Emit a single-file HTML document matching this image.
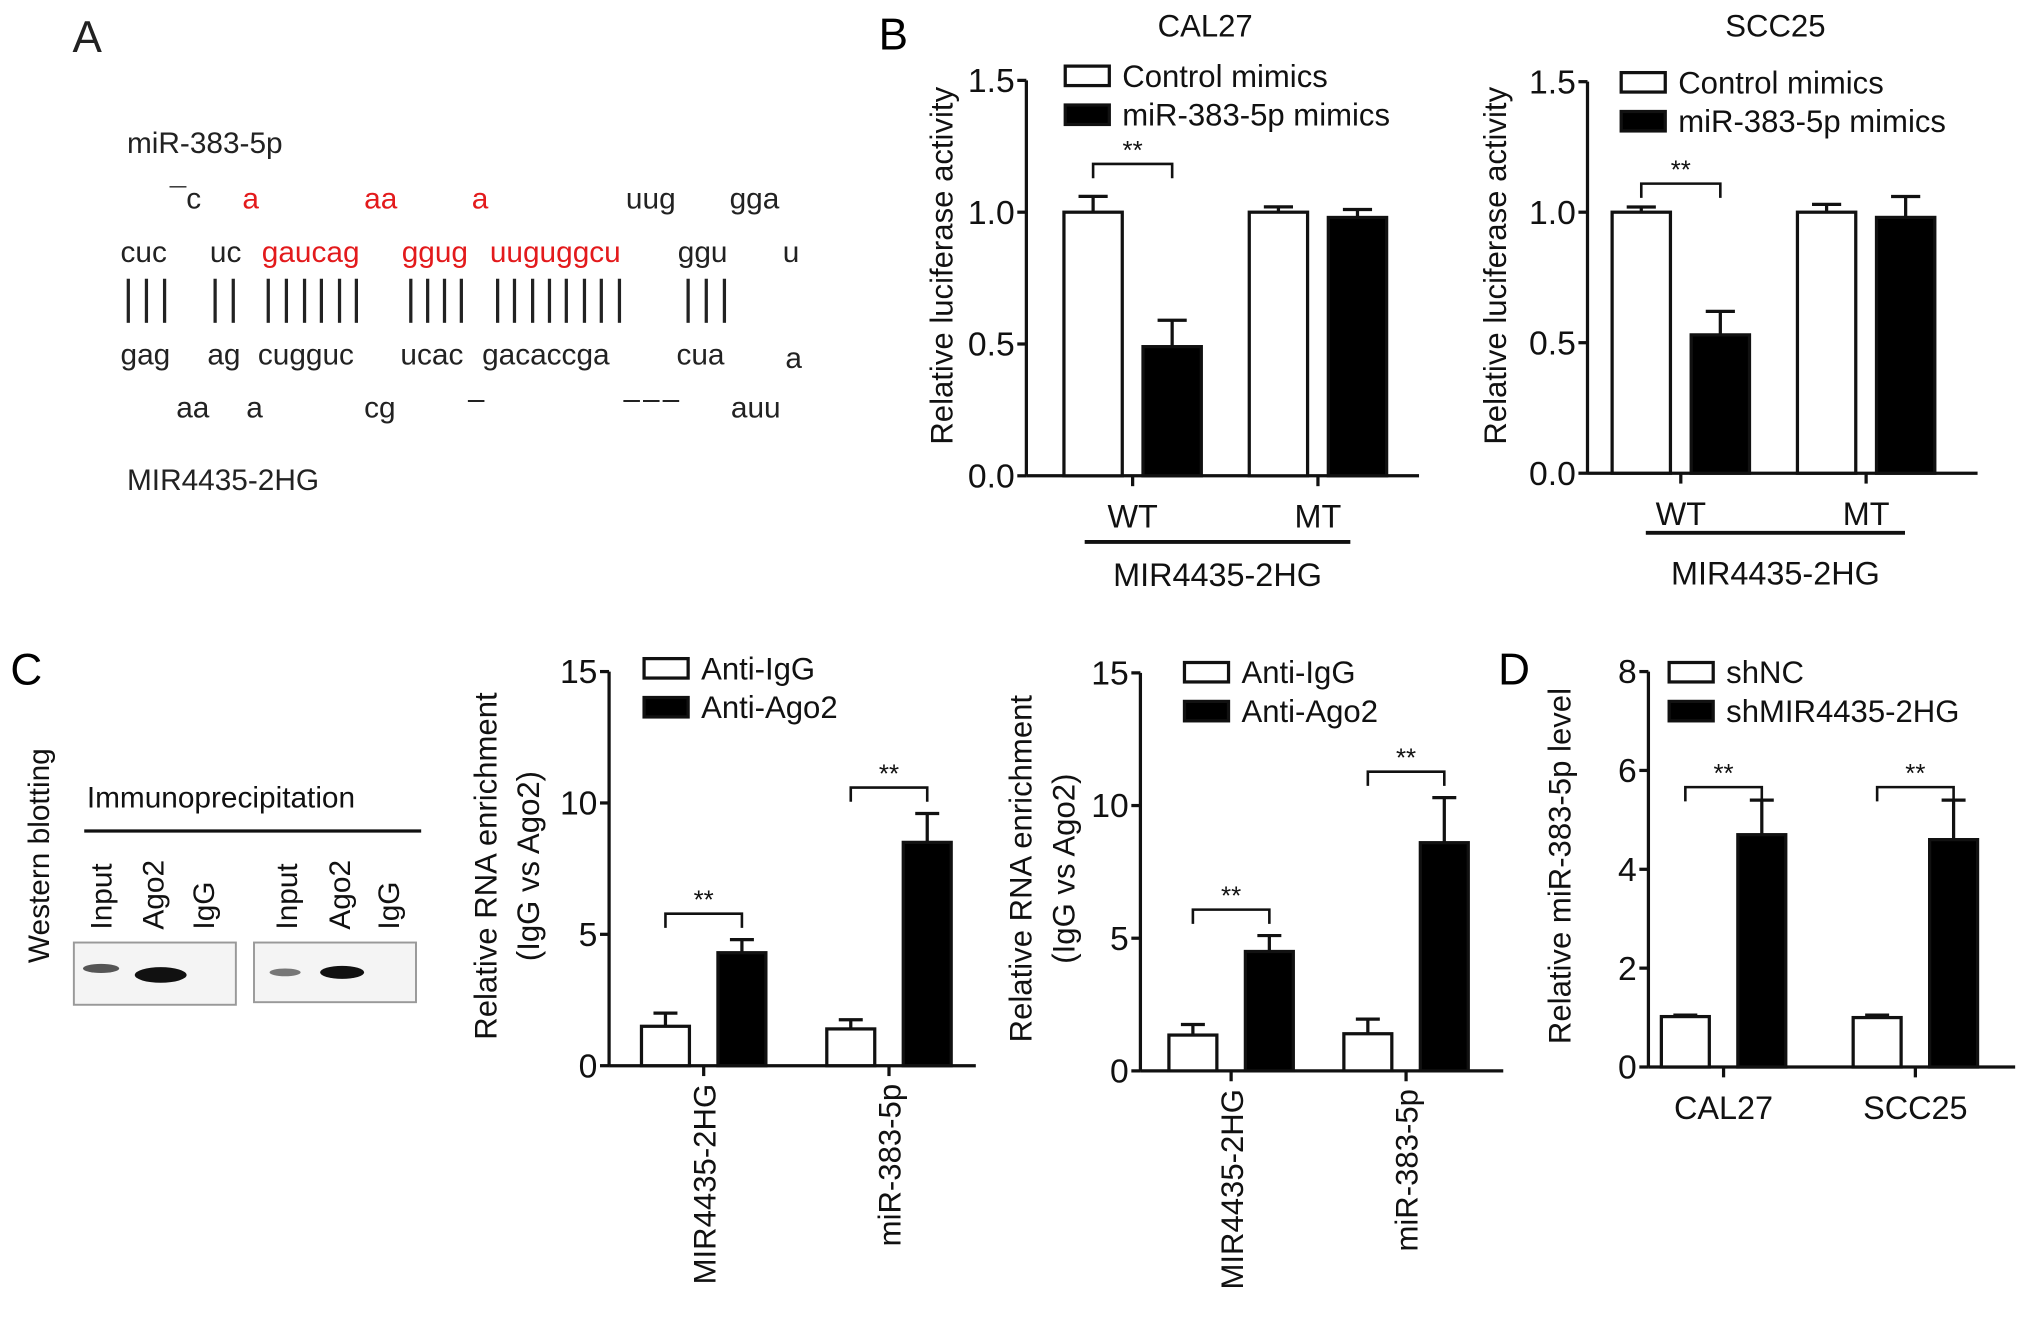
<!DOCTYPE html>
<html><head><meta charset="utf-8">
<style>
html,body{margin:0;padding:0;background:#fff;}
svg{display:block;font-family:"Liberation Sans",Arial,sans-serif;}
</style></head>
<body>
<svg id="fig" width="2032" height="1325" viewBox="0 0 1568 1022" preserveAspectRatio="none" xmlns="http://www.w3.org/2000/svg">
<rect width="1568" height="1022" fill="#fff"/>
<g font-size="23" fill="#222">
<text x="56" y="40" font-size="34">A</text>
<text x="98" y="118">miR-383-5p</text>
<text x="131" y="161">¯c</text>
<text x="187" y="161" fill="#e31a1c">a</text>
<text x="281" y="161" fill="#e31a1c">aa</text>
<text x="364" y="161" fill="#e31a1c">a</text>
<text x="483" y="161">uug</text>
<text x="563" y="161">gga</text>
<text x="93" y="202">cuc</text>
<text x="162" y="202">uc</text>
<text x="202" y="202" fill="#e31a1c">gaucag</text>
<text x="310" y="202" fill="#e31a1c">ggug</text>
<text x="378" y="202" fill="#e31a1c">uuguggcu</text>
<text x="523" y="202">ggu</text>
<text x="604" y="202">u</text>
<g stroke="#222" stroke-width="2.5" id="pairs"></g>
<text x="93" y="281">gag</text>
<text x="160" y="281">ag</text>
<text x="199" y="281">cugguc</text>
<text x="309" y="281">ucac</text>
<text x="372" y="281">gacaccga</text>
<text x="522" y="281">cua</text>
<text x="606" y="284">a</text>
<text x="136" y="322">aa</text>
<text x="190" y="322">a</text>
<text x="281" y="322">cg</text>
<text x="361" y="315">–</text>
<text x="481" y="315" letter-spacing="-2">– – –</text>
<text x="564" y="322">auu</text>
<text x="98" y="378">MIR4435-2HG</text>
</g>
<text x="678" y="38" font-size="34">B</text>
<text x="8" y="528" font-size="34">C</text>
<text x="1156" y="528" font-size="34">D</text>
<g font-size="23" fill="#111">
<text transform="translate(38,660) rotate(-90)" text-anchor="middle">Western blotting</text>
<text x="67" y="623">Immunoprecipitation</text>
<line x1="65" y1="641" x2="325" y2="641" stroke="#111" stroke-width="2.5"/>
<text transform="translate(86,717) rotate(-90)">Input</text>
<text transform="translate(126,717) rotate(-90)">Ago2</text>
<text transform="translate(165,717) rotate(-90)">IgG</text>
<text transform="translate(229,717) rotate(-90)">Input</text>
<text transform="translate(270,717) rotate(-90)">Ago2</text>
<text transform="translate(308,717) rotate(-90)">IgG</text>
<rect x="57" y="727" width="125" height="48" fill="#f4f4f4" stroke="#999" stroke-width="1.5"/>
<rect x="196" y="727" width="125" height="46" fill="#f4f4f4" stroke="#999" stroke-width="1.5"/>
<ellipse cx="78" cy="747" rx="14" ry="3.5" fill="#555"/>
<ellipse cx="124" cy="752" rx="20" ry="6" fill="#111"/>
<ellipse cx="220" cy="750" rx="12" ry="3" fill="#777"/>
<ellipse cx="264" cy="750" rx="17" ry="5" fill="#111"/>
</g>
<g id="charts"></g>
</svg>
<script>
const pairX=[99,113,127,166,180,207,221,235,248,262,275,317,330,343,356,384,397,411,424,437,451,464,478,531,545,559];
const pg=document.getElementById('pairs');
pairX.forEach(x=>{const l=document.createElementNS('http://www.w3.org/2000/svg','line');l.setAttribute('x1',x);l.setAttribute('x2',x);l.setAttribute('y1',215);l.setAttribute('y2',249);pg.appendChild(l);});

const calCategories=["WT","MT"];
const calControl=[1.0,1.0];
const calControlErr=[1.06,1.02];
const calMimic=[0.49,0.98];
const calMimicErr=[0.59,1.01];
const sccControl=[1.0,1.0];
const sccControlErr=[1.02,1.03];
const sccMimic=[0.53,0.98];
const sccMimicErr=[0.62,1.06];
const lucTicks=["0.0","0.5","1.0","1.5"];
const lucTickVals=[0,0.5,1.0,1.5];

const ripCategories=["MIR4435-2HG","miR-383-5p"];
const rip1IgG=[1.5,1.4];
const rip1IgGErr=[2.0,1.75];
const rip1Ago=[4.3,8.5];
const rip1AgoErr=[4.8,9.6];
const rip2IgG=[1.35,1.4];
const rip2IgGErr=[1.75,1.95];
const rip2Ago=[4.5,8.6];
const rip2AgoErr=[5.1,10.3];
const ripTickVals=[0,5,10,15];

const dCategories=["CAL27","SCC25"];
const dShNC=[1.02,1.0];
const dShNCErr=[1.05,1.05];
const dSh=[4.7,4.6];
const dShErr=[5.4,5.4];
const dTickVals=[0,2,4,6,8];

const NS='http://www.w3.org/2000/svg';
const root=document.getElementById('charts');
function el(tag,attrs,parent,text){const e=document.createElementNS(NS,tag);for(const k in attrs)e.setAttribute(k,attrs[k]);if(text!==undefined)e.textContent=text;(parent||root).appendChild(e);return e;}

function chart(o){
  const g=el('g',{},root);
  
  
  const y=v=>o.y0-(v-0)/(o.ymax)*(o.y0-o.ytop);
  const ya=el('line',{x1:o.ax,x2:o.ax,y1:o.ytop,y2:o.y0,stroke:'#111','stroke-width':2.5},g);
  
  
  const xa=el('line',{x1:o.ax,x2:o.axEnd,y1:o.y0,y2:o.y0,stroke:'#111','stroke-width':2.5},g);
  
  
  o.ticks.forEach((t,i)=>{
    const yy=y(t);
    el('line',{x1:o.ax-7,x2:o.ax,y1:yy,y2:yy,stroke:'#111','stroke-width':2.5},g);
    const tl=el('text',{x:o.ax-9,y:yy+9,'text-anchor':'end','font-size':26,fill:'#111'},g,o.tickLabels?o.tickLabels[i]:String(t));
    
    
  });
  o.cats.forEach((c,i)=>{
    const gc=o.groupX[i];
    [[o.a,o.aErr,'#fff'],[o.b,o.bErr,'#000']].forEach((s,j)=>{
      const x=gc+(j===0?-o.gap-o.bw:o.gap);
      const v=s[0][i],e=s[1][i];
      const cx=x+o.bw/2;
      el('line',{x1:cx,x2:cx,y1:y(v),y2:y(e),stroke:'#111','stroke-width':2.5},g);
      el('line',{x1:cx-o.bw*0.25,x2:cx+o.bw*0.25,y1:y(e),y2:y(e),stroke:'#111','stroke-width':2.5},g);
      const r=el('rect',{x:x,y:y(v),width:o.bw,height:o.y0-y(v),fill:s[2],stroke:'#111','stroke-width':2.5},g);
      
      
    });
    el('line',{x1:gc,x2:gc,y1:o.y0,y2:o.y0+8,stroke:'#111','stroke-width':2.5},g);
    let lab;
    if(o.rotate){lab=el('text',{transform:`translate(${gc+9},${o.y0+14}) rotate(-90)`,'text-anchor':'end','font-size':24,fill:'#111'},g,c);}
    else{lab=el('text',{x:gc,y:o.y0+40,'text-anchor':'middle','font-size':25,fill:'#111'},g,c);}
    
    
  });
  o.sig.forEach(i=>{
    const gc=o.groupX[i];
    const x1=gc-o.gap-o.bw/2,x2=gc+o.gap+o.bw/2;
    const by=Math.min(y(o.aErr[i]),y(o.bErr[i]))-o.sigOff;
    el('path',{d:`M${x1},${by+11}V${by}H${x2}V${by+11}`,fill:'none',stroke:'#111','stroke-width':2},g);
    const st=el('text',{x:gc,y:by-4,'text-anchor':'middle','font-size':20,fill:'#111'},g,'**');
    
    
  });
  const yl=el('text',{'font-size':24,fill:'#111','text-anchor':'middle',transform:`translate(${o.ylx},${o.yly}) rotate(-90)`},g);
  
  
  o.ylab.forEach((t,k)=>{el('tspan',{x:0,dy:k===0?0:33},yl,t);});
  o.leg.forEach((t,k)=>{
    const ly=o.legY+k*30;
    const lr=el('rect',{x:o.legX,y:ly-15,width:34,height:15,fill:k===0?'#fff':'#000',stroke:'#111','stroke-width':2.5},g);
    
    
    const lt=el('text',{x:o.legX+44,y:ly+1,'font-size':24,fill:'#111'},g,t);
    
    
  });
  if(o.title){const tt=el('text',{x:o.title[1],y:28,'text-anchor':'middle','font-size':24,fill:'#111'},g,o.title[0]);}
  if(o.group){
    el('line',{x1:o.group[0],x2:o.group[1],y1:o.group[2],y2:o.group[2],stroke:'#111','stroke-width':3},g);
    const gt=el('text',{x:(o.group[0]+o.group[1])/2,y:o.group[3],'text-anchor':'middle','font-size':25,fill:'#111'},g,'MIR4435-2HG');
    
    
  }
}

chart({name:'luciferase-cal27-chart',ax:792,axEnd:1095,y0:367,ytop:62,ymax:1.5,ticks:lucTickVals,tickLabels:lucTicks,
  cats:calCategories,groupX:[874,1017],bw:45,gap:8,a:calControl,aErr:calControlErr,b:calMimic,bErr:calMimicErr,
  sig:[0],sigOff:25,ylx:735,yly:205,ylab:['Relative luciferase activity'],legX:822,legY:66,leg:['Control mimics','miR-383-5p mimics'],
  title:['CAL27',930],group:[837,1042,418,452]});
chart({name:'luciferase-scc25-chart',ax:1225,axEnd:1526,y0:365,ytop:63,ymax:1.5,ticks:lucTickVals,tickLabels:lucTicks,
  cats:calCategories,groupX:[1297,1440],bw:45,gap:8,a:sccControl,aErr:sccControlErr,b:sccMimic,bErr:sccMimicErr,
  sig:[0],sigOff:18,ylx:1162,yly:205,ylab:['Relative luciferase activity'],legX:1251,legY:71,leg:['Control mimics','miR-383-5p mimics'],
  title:['SCC25',1370],group:[1270,1470,411,451]});
chart({name:'rip-cal27-chart',ax:470,axEnd:753,y0:822,ytop:518,ymax:15,ticks:ripTickVals,
  cats:ripCategories,groupX:[543,686],bw:37,gap:11,a:rip1IgG,aErr:rip1IgGErr,b:rip1Ago,bErr:rip1AgoErr,
  sig:[0,1],sigOff:20,ylx:383,yly:668,ylab:['Relative RNA enrichment','(IgG vs Ago2)'],legX:497,legY:523,leg:['Anti-IgG','Anti-Ago2'],rotate:true});
chart({name:'rip-scc25-chart',ax:880,axEnd:1160,y0:826,ytop:519,ymax:15,ticks:ripTickVals,
  cats:ripCategories,groupX:[950,1085],bw:37,gap:11,a:rip2IgG,aErr:rip2IgGErr,b:rip2Ago,bErr:rip2AgoErr,
  sig:[0,1],sigOff:20,ylx:796,yly:670,ylab:['Relative RNA enrichment','(IgG vs Ago2)'],legX:914,legY:526,leg:['Anti-IgG','Anti-Ago2'],rotate:true});
chart({name:'mirna-level-chart',ax:1272,axEnd:1555,y0:823,ytop:518,ymax:8,ticks:dTickVals,
  cats:dCategories,groupX:[1330,1478],bw:37,gap:11,a:dShNC,aErr:dShNCErr,b:dSh,bErr:dShErr,
  sig:[0,1],sigOff:10,ylx:1212,yly:668,ylab:['Relative miR-383-5p level'],legX:1288,legY:526,leg:['shNC','shMIR4435-2HG']});
</script>
</body></html>
